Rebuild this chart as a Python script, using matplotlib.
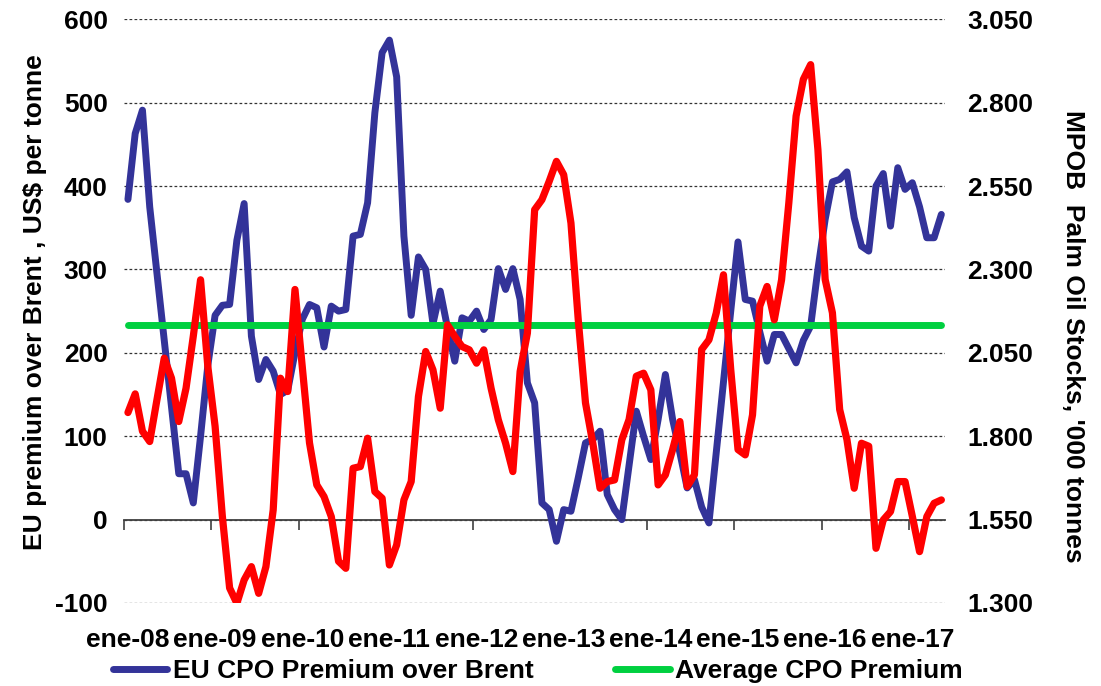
import matplotlib
matplotlib.use("Agg")
import matplotlib.pyplot as plt
from matplotlib.ticker import FuncFormatter
import numpy as np

# Monthly series, Jan 2008 - May 2017
premium_usd = [
    384, 463, 491, 375, 295, 215, 135, 55, 55, 20,
    100, 185, 245, 257, 258, 335, 379, 220, 168, 192,
    178, 150, 155, 200, 240, 258, 254, 207, 256, 250,
    252, 340, 342, 380, 488, 560, 575, 531, 340, 245,
    315, 300, 235, 274, 230, 190, 242, 238, 250, 228,
    240, 301, 276, 301, 264, 164, 140, 20, 12, -26,
    12, 10, 50, 92, 96, 106, 30, 12, 0, 65,
    130, 100, 72, 120, 174, 120, 80, 38, 48, 15,
    -4, 80, 165, 250, 333, 264, 262, 225, 190, 222,
    222, 205, 188, 215, 232, 300, 360, 405, 408, 417,
    362, 328, 322, 400, 415, 352, 422, 396, 404, 375,
    338, 338, 366,
]

mpob_stocks = [
    1871, 1927, 1815, 1784, 1910, 2034, 1974, 1844, 1944, 2100,
    2269, 2009, 1830, 1560, 1345, 1299, 1369, 1409, 1329, 1409,
    1579, 1974, 1934, 2240, 2009, 1780, 1654, 1619, 1559, 1425,
    1404, 1704, 1709, 1794, 1634, 1614, 1414, 1474, 1609, 1664,
    1919, 2054, 1999, 1884, 2134, 2099, 2069, 2059, 2019, 2059,
    1944, 1849, 1779, 1694, 1994, 2109, 2479, 2509, 2564, 2624,
    2584, 2439, 2150, 1900, 1780, 1644, 1664, 1669, 1789, 1850,
    1980, 1989, 1939, 1654, 1684, 1760, 1844, 1649, 1684, 2060,
    2089, 2169, 2284, 2000, 1760, 1744, 1864, 2190, 2249, 2149,
    2269, 2500, 2760, 2870, 2914, 2660, 2270, 2170, 1880, 1790,
    1644, 1779, 1770, 1464, 1549, 1574, 1664, 1664, 1560, 1454,
    1559, 1599, 1609,
]

average_premium = 233

year_labels = ["ene-08", "ene-09", "ene-10", "ene-11", "ene-12",
               "ene-13", "ene-14", "ene-15", "ene-16", "ene-17"]

BLUE = "#333399"
RED = "#FF0000"
GREEN = "#00D040"
FS = 19

plt.rcParams["font.family"] = ["Liberation Sans", "DejaVu Sans"]
plt.rcParams["font.weight"] = "bold"
plt.rcParams["axes.labelweight"] = "bold"
plt.rcParams["axes.unicode_minus"] = False

fig = plt.figure(figsize=(11.01, 6.86), dpi=100)
ax = fig.add_axes([0.1129, 0.1210, 0.7454, 0.8509])
ax2 = ax.twinx()

n = len(premium_usd)
x = np.arange(n)

line_kw = dict(solid_capstyle="round", solid_joinstyle="round")
h_blue, = ax.plot(x, premium_usd, color=BLUE, lw=5, zorder=3,
                  label="EU CPO Premium over Brent", **line_kw)
h_green, = ax.plot(x, [average_premium] * n, color=GREEN, lw=5, zorder=4,
                   label="Average CPO Premium", **line_kw)
ax2.plot(x, mpob_stocks, color=RED, lw=5.2, zorder=3, **line_kw)

ax.set_xlim(-0.5, n - 0.5)
ax.set_ylim(-100, 600)
ax2.set_ylim(1300, 3050)

# left axis: ticks, dotted gridlines
ax.set_yticks(np.arange(-100, 601, 100))
ax.yaxis.grid(True, linestyle=(0, (2.2, 1.8)), color="#333333", lw=0.9)
ax.set_axisbelow(True)
ax.tick_params(axis="y", length=0, pad=12, labelsize=FS)

# right axis
ax2.set_yticks(np.arange(1300, 3051, 250))
ax2.yaxis.set_major_formatter(
    FuncFormatter(lambda v, _: f"{v:,.0f}".replace(",", ".")))
ax2.tick_params(axis="y", length=0, pad=16, labelsize=FS)

for a in (ax, ax2):
    for s in ("top", "left", "right", "bottom"):
        a.spines[s].set_visible(False)

# category axis crossing at zero, tick marks every 12 months
ax.spines["bottom"].set_visible(True)
ax.spines["bottom"].set_position(("data", 0))
ax.spines["bottom"].set_color("#404040")
ax.spines["bottom"].set_linewidth(1.3)
ax.set_xticks(np.arange(-0.5, n - 1, 12))
ax.tick_params(axis="x", direction="out", length=7, width=1.2,
               color="#404040", labelbottom=False)

# month labels placed low, below the plot area
sec = ax.secondary_xaxis("bottom")
sec.set_xticks(np.arange(0, n, 12), labels=year_labels)
sec.tick_params(length=0, pad=18, labelsize=FS)
sec.spines["bottom"].set_visible(False)

ax.set_ylabel("EU premium over Brent , US$ per tonne", fontsize=FS,
              fontweight="bold", va="center", ha="center")
ax.yaxis.set_label_coords(-0.109, 0.515)
ax2.set_ylabel("MPOB  Palm Oil Stocks, '000 tonnes", fontsize=FS,
               fontweight="bold", rotation=270, va="center", ha="center")
ax2.yaxis.set_label_coords(1.156, 0.457)

fig.legend(handles=[h_blue, h_green], loc="upper left",
           bbox_to_anchor=(0.1026, 0.0395), ncol=2, frameon=False,
           borderpad=0, borderaxespad=0, handlelength=2.05,
           handletextpad=0.22, columnspacing=3.1,
           prop=dict(size=FS, weight="bold"))

fig.savefig("out.png", dpi=100)
